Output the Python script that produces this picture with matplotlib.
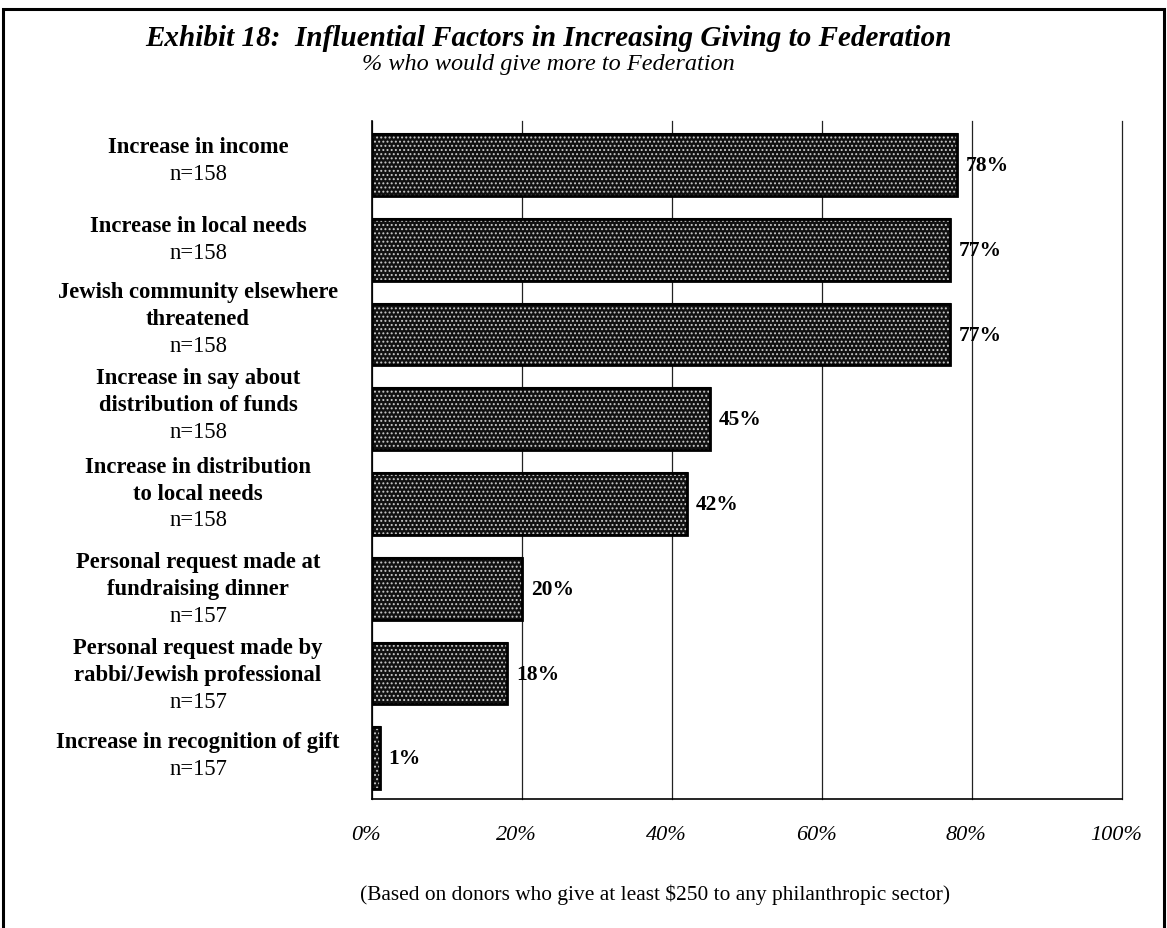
import numpy as np
import matplotlib
matplotlib.use("Agg")
import matplotlib.pyplot as plt
from matplotlib.patches import Rectangle
from matplotlib.transforms import ScaledTranslation

# factores y porcentajes
factores = [
    ["Increase in income"],
    ["Increase in local needs"],
    ["Jewish community elsewhere", "threatened"],
    ["Increase in say about", "distribution of funds"],
    ["Increase in distribution", "to local needs"],
    ["Personal request made at", "fundraising dinner"],
    ["Personal request made by", "rabbi/Jewish professional"],
    ["Increase in recognition of gift"],
]
n_casos = [158, 158, 158, 158, 158, 157, 157, 157]
porcentajes = [78, 77, 77, 45, 42, 20, 18, 1]
ticks_x = [0, 20, 40, 60, 80, 100]

# ajuste vertical de cada bloque de etiquetas (px)
ajuste_etiq = [-5, -11, -16, -15, -11, 0, 1, -3]

plt.rcParams['font.family'] = ['Liberation Serif', 'DejaVu Serif']
plt.rcParams['hatch.linewidth'] = 0.9

fig = plt.figure(figsize=(11.67, 9.29), dpi=100)
ax = fig.add_axes([0.3188, 0.1389, 0.6427, 0.7298])

y = np.arange(len(porcentajes))
# barras: fondo negro + puntos claros + borde negro
ax.barh(y, porcentajes, height=0.73, color='#111111', edgecolor='black', linewidth=1.5, zorder=2)
ax.barh(y, porcentajes, height=0.73, color='none', edgecolor='#c8c8c8', hatch='....', linewidth=0, zorder=3)
ax.barh(y, porcentajes, height=0.73, color='none', edgecolor='black', linewidth=2.0, zorder=4)

ax.set_xlim(0, 100)
ax.set_ylim(len(porcentajes) - 0.52, -0.52)
ax.set_yticks([])
ax.set_xticks(ticks_x)
ax.set_xticklabels([f"{t}%" for t in ticks_x], fontsize=16, style='italic')
ax.tick_params(axis='x', length=0, pad=19)
desplaza = ScaledTranslation(-6 / 100, 0, fig.dpi_scale_trans)
for lab in ax.get_xticklabels():
    lab.set_transform(lab.get_transform() + desplaza)

ax.grid(True, axis='x', color='#222222', linewidth=0.9, zorder=1)
for linea in ax.get_xgridlines():
    linea.set_clip_on(False)
ax.spines['top'].set_visible(False)
ax.spines['right'].set_visible(False)
ax.spines['left'].set_linewidth(1.2)
ax.spines['bottom'].set_linewidth(1.2)

# etiquetas de valor
for i, v in enumerate(porcentajes):
    ax.annotate(f"{v}%", xy=(v, i), xytext=(6.5, 0), textcoords='offset points',
                ha='left', va='center', fontsize=15.5, fontweight='bold')

# etiquetas de categoria (negrita + n en normal)
paso = 19.4  # puntos entre renglones
for i, lineas in enumerate(factores):
    todas = lineas + [f"n={n_casos[i]}"]
    k = len(todas)
    for j, txt in enumerate(todas):
        dy = -(j - (k - 1) / 2) * paso - ajuste_etiq[i] * 0.72
        peso = 'normal' if j == k - 1 else 'bold'
        ax.annotate(txt, xy=(-0.232, i), xycoords=('axes fraction', 'data'),
                    xytext=(0, dy), textcoords='offset points',
                    ha='center', va='center', fontsize=16.3, fontweight=peso,
                    annotation_clip=False)

# titulo y subtitulo
fig.text(0.470, 0.959, "Exhibit 18:  Influential Factors in Increasing Giving to Federation",
         ha='center', va='center', fontsize=21, fontweight='bold', style='italic')
fig.text(0.470, 0.931, "% who would give more to Federation",
         ha='center', va='center', fontsize=17.5, style='italic')

# nota al pie
fig.text(0.561, 0.037, "(Based on donors who give at least $250 to any philanthropic sector)",
         ha='center', va='center', fontsize=15.4)

# recuadro
fig.patches.append(Rectangle((3 / 1167, -0.1), 1161 / 1167, 1.1 - 10 / 929,
                             transform=fig.transFigure, fill=False,
                             edgecolor='black', linewidth=2.2))

fig.savefig("out.png", dpi=100)
